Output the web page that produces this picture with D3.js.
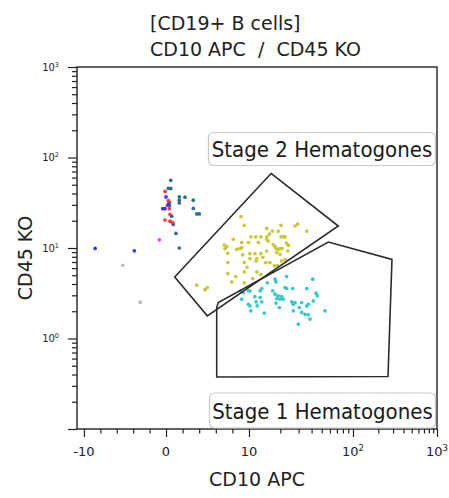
<!DOCTYPE html>
<html lang="en">
  <head>
    <meta charset="UTF-8" />
    <title>[CD19+ B cells] CD10 APC / CD45 KO</title>
    <style>
      body {
        margin: 0;
        background-color: #fff;
      }
      svg {
        display: block;
        font-family: "DejaVu Sans", sans-serif;
      }
      .gate {
        fill: none;
        stroke: #2b2b2b;
        stroke-width: 1.6px;
        stroke-linejoin: miter;
      }
      .gate-label rect {
        fill: #fff;
        stroke: #c9c9c9;
        stroke-width: 1.2px;
      }
      .gate-label text {
        font-family: "DejaVu Sans Condensed", "DejaVu Sans", sans-serif;
        font-stretch: condensed;
        font-size: 22px;
        fill: #1a1a1a;
      }
    </style>
  </head>
  <body>
    <svg id="chart"></svg>

    <script src="https://d3js.org/d3.v7.min.js"></script>
    <script>
      const width = 449;
      const height = 498;

      // events, CD10 APC (x) and CD45 KO (y)
      const stage2X = [9.04, 9.43, 14.8, 20.3, 29.4, 27.7, 35.9, 19.1, 8.11, 9.12, 10.45, 11.6, 13.0, 14.8, 15.7, 16.75, 20.3, 21.4, 22.2, 7.02, 7.11, 8.52, 8.92, 9.12, 9.92, 12.3, 14.8, 15.3, 17.1, 17.8, 19.1, 19.9, 23.0, 23.6, 7.43, 10.2, 11.4, 13.0, 14.8, 18.5, 19.9, 9.43, 11.9, 10.2, 7.43, 14.5, 15.9, 20.6, 22.2, 18.7, 7.43, 8.4, 9.43, 11.9, 7.92, 9.43, 10.85, 3.7, 4.7, 4.98, 20.8, 24.0, 18.2, 7.31, 9.24, 13.6, 9.76, 13.0, 17.5, 11.7];
      const stage2Y = [22.2, 17.8, 16.5, 17.8, 18.4, 17.5, 15.4, 15.4, 12.5, 11.5, 13.3, 13.3, 13.3, 13.3, 14.2, 15.4, 13.3, 13.3, 13.3, 10.8, 9.85, 9.67, 9.85, 10.1, 11.5, 11.5, 12.5, 11.95, 10.9, 10.4, 9.67, 9.85, 11.3, 9.27, 8.75, 8.68, 8.68, 8.68, 9.27, 8.9, 8.52, 6.95, 7.64, 7.64, 6.9, 6.9, 6.9, 7.19, 7.45, 6.45, 5.22, 4.84, 5.44, 5.44, 4.22, 4.13, 4.6, 3.88, 3.46, 3.66, 9.85, 10.7, 9.85, 10.4, 8.4, 7.9, 6.13, 5.13, 6.35, 7.19];

      const stage1X = [23.0, 41.0, 15.0, 17.8, 18.2, 13.25, 12.8, 9.92, 10.2, 9.0, 9.31, 16.9, 23.0, 26.3, 35.9, 44.1, 45.4, 17.8, 19.1, 20.6, 18.5, 19.9, 21.4, 9.12, 11.4, 12.8, 18.2, 25.7, 26.7, 27.7, 32.1, 37.2, 41.5, 9.92, 10.2, 11.7, 13.25, 19.6, 30.5, 10.4, 14.0, 26.7, 34.6, 53.8, 38.6, 29.8, 32.1, 37.2, 22.2, 35.9, 12.0];
      const stage1Y = [4.84, 4.52, 4.13, 4.52, 4.22, 3.57, 3.36, 3.36, 3.36, 3.36, 3.22, 3.36, 3.57, 3.57, 3.57, 3.17, 2.96, 3.09, 2.96, 2.9, 2.77, 2.72, 2.72, 2.72, 2.9, 2.84, 2.46, 2.54, 2.39, 2.5, 2.5, 2.39, 2.6, 2.39, 2.29, 2.54, 2.54, 2.2, 2.2, 2.02, 1.91, 2.02, 1.85, 2.02, 1.64, 1.44, 1.94, 1.83, 3.66, 2.29, 2.29];

      const matureX = [0.57, 0.28, 0.57, 1.6, 1.6, 1.6, 2.29, 3.29, 3.29, 3.7, 4.01, 0.4, 0.69, 0.88, 1.2, 1.6, 0.42];
      const matureY = [56, 45.5, 45.5, 36.8, 33.8, 31.5, 36.4, 33.8, 27.4, 23.8, 23.8, 29.5, 22.5, 18.2, 14.5, 10.0, 31.8];

      const redX = [-0.12, 0.28, 0.16, 0.48, -0.12, 0.48, 0.81, 0.4];
      const redY = [42.2, 33.5, 29.5, 23.6, 20.4, 19.8, 19.05, 27.2];

      const blueX = [0, -0.4, -0.12, 0.28, -8.64, -3.86];
      const blueY = [36.7, 27.2, 27.2, 30.5, 9.9, 9.3];

      const magentaX = [-0.81];
      const magentaY = [12.3];

      const grayX = [-5.27, -3.13];
      const grayY = [6.45, 2.52];

      // gates, in data units
      const gate2X = [16.3, 72.2, 4.98, 1.05];
      const gate2Y = [66.6, 17.5, 1.78, 4.79];
      const gate1X = [6.11, 6.11, 6.3, 57.9, 291, 261];
      const gate1Y = [0.375, 2.2, 2.5, 11.65, 7.48, 0.38];

      const xMajor = [-10, 0, 10, 100, 1000];
      const xMajorBase = ["-10", "0", "10", "10", "10"];
      const xMajorExp = ["", "", "", "2", "3"];
      const yMajor = [1, 10, 100, 1000];
      const yMajorExp = ["0", "1", "2", "3"];

      const svg = d3
        .select("#chart")
        .attr("width", width)
        .attr("height", height)
        .attr("viewBox", `0 0 ${width} ${height}`);

      const plotLeft = 77;
      const plotRight = 437;

      // linear around zero, log above 10
      const xLin = d3
        .scaleLinear()
        .domain([-1.085, 0, 1, 2, 3])
        .range([plotLeft, 166, 249, 353, plotRight]);
      const toT = (v) => (v <= 10 ? v / 10 : 1 + Math.log10(v / 10));
      const x = (v) => xLin(toT(v));
      x.copy = () => x;
      x.domain = () => [-10.85, 1000];
      x.range = () => [plotLeft, plotRight];

      const y = d3.scaleLog().domain([0.1, 1000]).range([429, 67]);

      const xMinor = [-8, -6, -4, -2, 2, 4, 6, 8];
      [10, 100].forEach((d) => {
        for (let k = 2; k <= 9; k++) xMinor.push(d * k);
      });
      const yMinor = y.ticks().filter((v) => !yMajor.includes(v) && v !== 0.1);

      // frame
      svg
        .append("rect")
        .attr("x", plotLeft)
        .attr("y", y(1000))
        .attr("width", plotRight - plotLeft)
        .attr("height", y(0.1) - y(1000))
        .attr("fill", "none")
        .attr("stroke", "#222")
        .attr("stroke-width", 1.4);

      // axes
      function drawAxis(axis, transform) {
        const g = svg.append("g").attr("transform", transform).call(axis);
        g.select(".domain").remove();
        g.selectAll(".tick line").attr("stroke", "#222").attr("stroke-width", 1.2);
        return g;
      }
      drawAxis(
        d3.axisBottom(x).tickValues(xMajor).tickSize(8).tickFormat(""),
        `translate(0,${y(0.1)})`
      );
      drawAxis(
        d3.axisBottom(x).tickValues(xMinor).tickSize(4.5).tickFormat(""),
        `translate(0,${y(0.1)})`
      );
      drawAxis(
        d3.axisLeft(y).tickValues(yMajor.concat([0.1])).tickSize(9).tickFormat(""),
        `translate(${plotLeft},0)`
      );
      drawAxis(
        d3.axisLeft(y).tickValues(yMinor).tickSize(5).tickFormat(""),
        `translate(${plotLeft},0)`
      );

      // tick labels
      const xl = svg
        .append("g")
        .selectAll("text")
        .data(xMajor)
        .join("text")
        .attr("x", (d) => x(d))
        .attr("y", 455.5)
        .attr("text-anchor", "middle")
        .attr("font-size", 13)
        .attr("fill", "#222");
      xl.append("tspan").text((d, i) => xMajorBase[i]);
      xl.append("tspan")
        .attr("dy", -5)
        .attr("font-size", 8.5)
        .text((d, i) => xMajorExp[i]);

      const yl = svg
        .append("g")
        .selectAll("text")
        .data(yMajor)
        .join("text")
        .attr("x", 59)
        .attr("y", (d) => y(d) + 3.5)
        .attr("text-anchor", "end")
        .attr("font-size", 10)
        .attr("fill", "#222");
      yl.append("tspan").text("10");
      yl.append("tspan")
        .attr("dy", -4)
        .attr("font-size", 6.5)
        .text((d, i) => yMajorExp[i]);

      // events
      const populations = [
        { xs: matureX, ys: matureY, color: "#2f6e8c" },
        { xs: redX, ys: redY, color: "#ff3535" },
        { xs: blueX, ys: blueY, color: "#3535ff" },
        { xs: magentaX, ys: magentaY, color: "#ff3cff" },
        { xs: grayX, ys: grayY, color: "#bdbdbd" },
        { xs: stage2X, ys: stage2Y, color: "#c9c939" },
        { xs: stage1X, ys: stage1Y, color: "#36c9c9" },
      ];
      const events = populations.flatMap((p) =>
        p.xs.map((v, i) => ({ x: v, y: p.ys[i], color: p.color }))
      );

      svg
        .append("defs")
        .append("filter")
        .attr("id", "soft")
        .append("feGaussianBlur")
        .attr("stdDeviation", 0.35);

      svg
        .append("g")
        .attr("filter", "url(#soft)")
        .selectAll("circle")
        .data(events)
        .join("circle")
        .attr("cx", (d) => x(d.x))
        .attr("cy", (d) => y(d.y))
        .attr("r", 1.85)
        .attr("fill", (d) => d.color);

      // gates
      const line = d3
        .line()
        .x((d) => x(d[0]))
        .y((d) => y(d[1]))
        .curve(d3.curveLinearClosed);
      svg
        .append("path")
        .attr("class", "gate")
        .attr("d", line(d3.zip(gate2X, gate2Y)));
      svg
        .append("path")
        .attr("class", "gate")
        .attr("d", line(d3.zip(gate1X, gate1Y)));

      // gate labels
      const labels = [
        { text: "Stage 2 Hematogones", x: 208.5, y: 132.5, w: 227, h: 33 },
        { text: "Stage 1 Hematogones", x: 209.5, y: 393, w: 226, h: 35 },
      ];
      const lg = svg
        .selectAll(".gate-label")
        .data(labels)
        .join("g")
        .attr("class", "gate-label");
      lg.append("rect")
        .attr("x", (d) => d.x)
        .attr("y", (d) => d.y)
        .attr("width", (d) => d.w)
        .attr("height", (d) => d.h)
        .attr("rx", 5);
      lg.append("text")
        .attr("x", (d) => d.x + d.w / 2)
        .attr("y", (d) => d.y + d.h / 2 + 8)
        .attr("text-anchor", "middle")
        .text((d) => d.text);

      // titles
      const title = svg
        .append("text")
        .attr("x", 150)
        .attr("font-size", 19)
        .attr("fill", "#222")
        .style("white-space", "pre");
      title.append("tspan").attr("x", 150).attr("y", 30).text("[CD19+ B cells]");
      title.append("tspan").attr("x", 150).attr("y", 55.5).text("CD10 APC  /  CD45 KO");

      svg
        .append("text")
        .attr("x", (plotLeft + plotRight) / 2)
        .attr("y", 486)
        .attr("text-anchor", "middle")
        .attr("font-size", 19)
        .attr("fill", "#222")
        .text("CD10 APC");

      svg
        .append("text")
        .attr("transform", "translate(32,258) rotate(-90)")
        .attr("text-anchor", "middle")
        .attr("font-size", 19)
        .attr("fill", "#222")
        .text("CD45 KO");
    </script>
  </body>
</html>
